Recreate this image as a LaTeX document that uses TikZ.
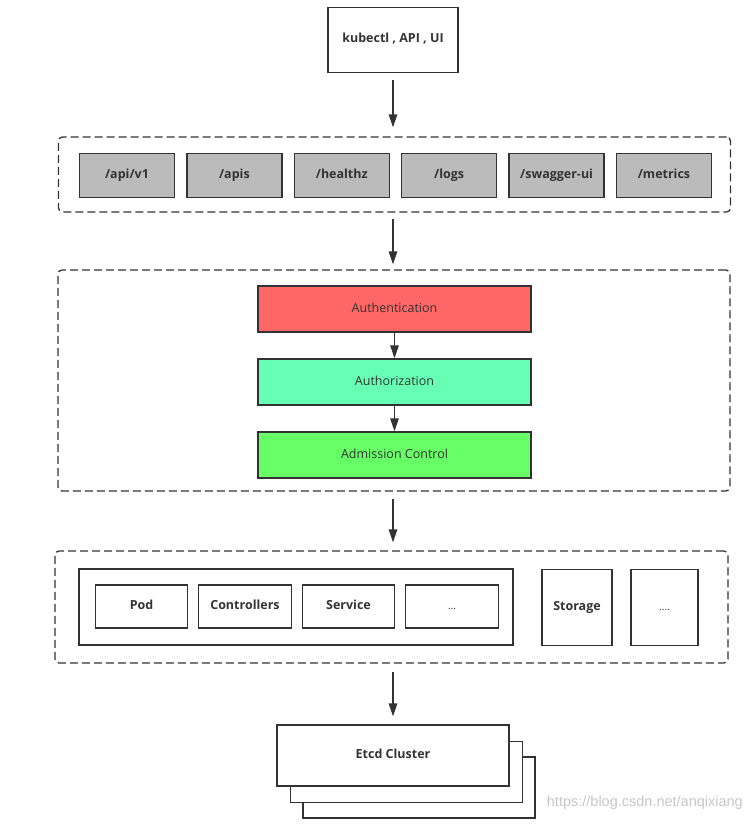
\documentclass[tikz,border=0pt]{standalone}
\usepackage{fontspec}
\setmainfont{Open Sans}
\newfontfamily\markfont{Liberation Sans}
\usetikzlibrary{arrows.meta,positioning}
\definecolor{edge}{HTML}{333333}
\definecolor{pathgray}{HTML}{BBBBBB}
\definecolor{authnred}{HTML}{FF6666}
\definecolor{authzmint}{HTML}{66FFB3}
\definecolor{admitgreen}{HTML}{66FF66}

\begin{document}
\begin{tikzpicture}[x=1pt, y=-1pt,
  box/.style={draw=edge, line width=1.4pt, fill=white, inner sep=0pt,
              text height=9pt, text depth=3pt,
              font=\bfseries\fontsize{12.5}{14}\selectfont, text=edge},
  pathbox/.style={box, fill=pathgray, minimum width=95pt, minimum height=44pt},
  kindbox/.style={box, minimum width=92.5pt, minimum height=43pt},
  stage/.style={box, minimum width=273pt, minimum height=46pt,
                font=\fontsize{12.5}{14}\selectfont},
  group/.style={draw=edge, line width=1.3pt, dash pattern=on 8pt off 4pt,
                rounded corners=4pt, inner sep=0pt},
  flow/.style={-{Triangle[length=13pt,width=8.5pt]}, draw=edge, line width=1.4pt},
  node distance=11pt
]
\useasboundingbox (0,0) rectangle (746,826);

% client
\node[box, minimum width=130pt, minimum height=65pt] (client) at (393,40) {kubectl , API , UI};

% api paths
\node[group, minimum width=672pt, minimum height=75pt] (paths) at (394.5,174.5) {};
\node[pathbox] (v1) at (127,175.5) {/api/v1};
\node[pathbox, right=of v1] (apis) {/apis};
\node[pathbox, right=of apis] (healthz) {/healthz};
\node[pathbox, right=of healthz] (logs) {/logs};
\node[pathbox, right=of logs] (swagger) {/swagger-ui};
\node[pathbox, right=of swagger] (metrics) {/metrics};

% access control
\node[group, minimum width=672pt, minimum height=221pt] (access) at (394,380.5) {};
\node[stage, fill=authnred] (authn) at (394.5,309) {Authentication};
\node[stage, fill=authzmint, below=25.6pt of authn] (authz) {Authorization};
\node[stage, fill=admitgreen, below=25.6pt of authz] (admit) {Admission Control};

% resources
\node[group, minimum width=673pt, minimum height=112pt] (res) at (391.5,607) {};
\node[box, minimum width=434pt, minimum height=76pt] (kinds) at (296,607) {};
\node[kindbox] (pod) at (141.5,606.5) {Pod};
\node[kindbox, right=9.6pt of pod] (ctrl) {Controllers};
\node[kindbox, right=9.6pt of ctrl] (svc) {Service};
\node[kindbox, right=9.6pt of svc, font=\fontsize{10}{12}\selectfont] (more) {...};
\node[box, minimum width=70pt, minimum height=76pt] (storage) at (577,607.5) {Storage};
\node[box, minimum width=67pt, minimum height=76pt, font=\fontsize{10}{12}\selectfont] (rest) at (664.5,607.5) {....};

% etcd
\node[box, minimum width=232pt, minimum height=61pt] (etcdc) at (419,787.5) {};
\node[box, minimum width=232pt, minimum height=61pt] (etcdb) at (406.5,772) {};
\node[box, minimum width=232pt, minimum height=61pt] (etcd) at (393,755.5) {Etcd Cluster};

\node[font=\markfont\fontsize{14.5}{16}\selectfont, text=gray!45, anchor=east, inner sep=0pt] (mark) at (743,803) {https://blog.csdn.net/anqixiang};

\draw[flow, shorten <=7pt, shorten >=9pt] (client.south) -- (client.south |- paths.north);
\draw[flow, shorten <=6pt, shorten >=5pt] (paths.south -| client) -- (access.north -| client);
\draw[flow] (authn) -- (authz);
\draw[flow] (authz) -- (admit);
\draw[flow, shorten <=7pt, shorten >=8pt] (access.south -| client) -- (res.north -| client);
\draw[flow, shorten <=8pt, shorten >=8pt] (res.south -| client) -- (etcd.north -| client);
\end{tikzpicture}
\end{document}
